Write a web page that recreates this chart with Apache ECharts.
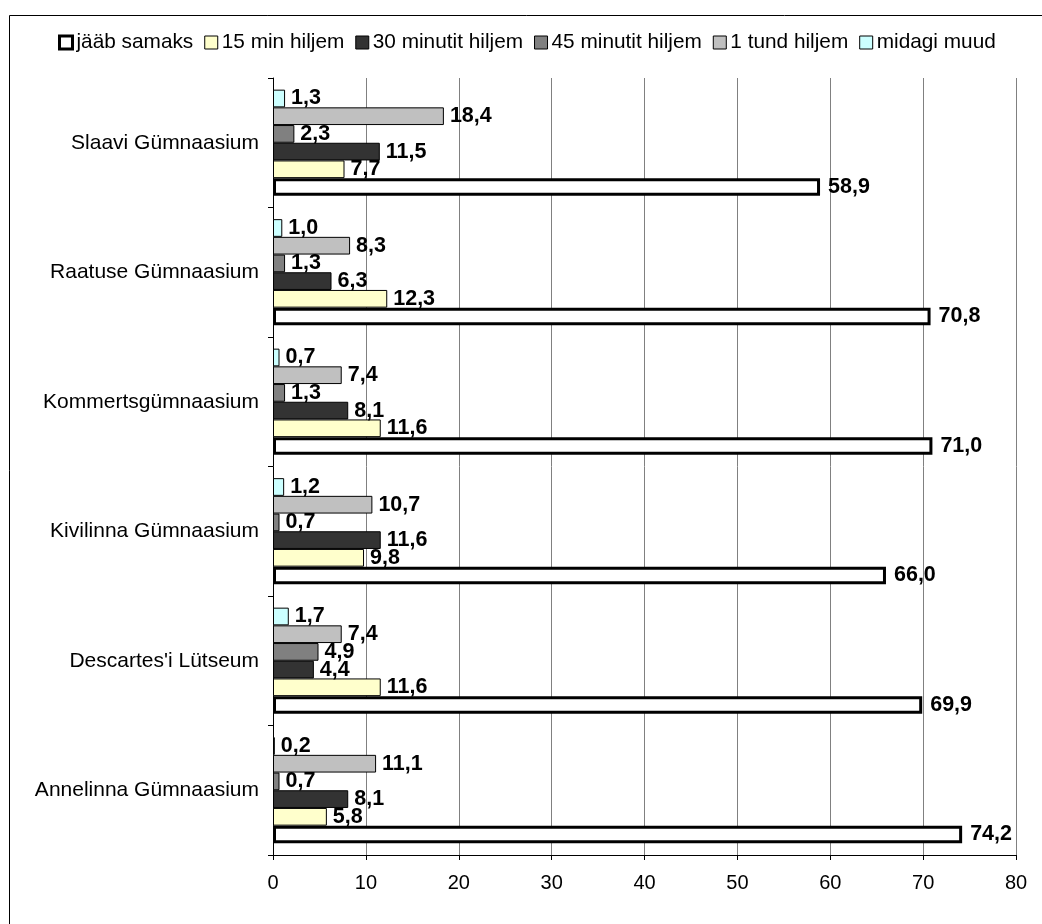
<!DOCTYPE html>
<html>
<head>
<meta charset="utf-8">
<script src="https://cdn.jsdelivr.net/npm/echarts@6/dist/echarts.min.js"></script>
<style>html,body{margin:0;padding:0;background:#fff;}#c{width:1042px;height:924px;}</style>
</head>
<body>
<div id="c"></div>
<script>
// Categories listed bottom-to-top
const categories = ["Annelinna Gümnaasium", "Descartes'i Lütseum", "Kivilinna Gümnaasium", "Kommertsgümnaasium", "Raatuse Gümnaasium", "Slaavi Gümnaasium"];
const seriesNames = ["jääb samaks", "15 min hiljem", "30 minutit hiljem", "45 minutit hiljem", "1 tund hiljem", "midagi muud"];
const jaabSamaks   = [74.2, 69.9, 66.0, 71.0, 70.8, 58.9];
const min15        = [5.8, 11.6, 9.8, 11.6, 12.3, 7.7];
const min30        = [8.1, 4.4, 11.6, 8.1, 6.3, 11.5];
const min45        = [0.7, 4.9, 0.7, 1.3, 1.3, 2.3];
const tund1        = [11.1, 7.4, 10.7, 7.4, 8.3, 18.4];
const midagiMuud   = [0.2, 1.7, 1.2, 0.7, 1.0, 1.3];
const xTicks = [0, 10, 20, 30, 40, 50, 60, 70, 80];

const seriesData = [jaabSamaks, min15, min30, min45, tund1, midagiMuud];
const colors = ["#FFFFFF", "#FFFFCC", "#333333", "#808080", "#C0C0C0", "#CCFFFF"];
const borderWidths = [3, 1, 1, 1, 1, 1];
const FONT = "'Liberation Sans', Arial, sans-serif";

// build series so that the first legend entry sits at the bottom of each group
const series = [];
for (let i = seriesData.length - 1; i >= 0; i--) {
  series.push({
    name: seriesNames[i], type: 'bar', data: seriesData[i],
    barGap: '0%', barCategoryGap: '18%',
    itemStyle: {color: colors[i], borderColor: '#000', borderWidth: borderWidths[i]},
    label: {
      show: true, position: 'right', distance: i === 0 ? 8 : 6,
      fontFamily: FONT, fontSize: 21.5, fontWeight: 'bold', color: '#000',
      formatter: p => p.value.toFixed(1).replace('.', ',')
    }
  });
}

const chart = echarts.init(document.getElementById('c'), null, {renderer: 'canvas'});
chart.setOption({
  animation: false,
  backgroundColor: '#ffffff',
  graphic: [{
    type: 'rect', left: 7, top: 13, z: -1,
    shape: {x: 0.5, y: 0.5, width: 1100, height: 1000},
    style: {fill: 'none', stroke: '#000', lineWidth: 1}
  }],
  legend: {
    top: 27, left: 53,
    itemWidth: 13, itemHeight: 13, itemGap: 11,
    icon: 'rect',
    textStyle: {fontFamily: FONT, fontSize: 20.8, color: '#000', padding: [0, 0, 0, -1]},
    data: seriesNames.map((n, i) => ({
      name: n,
      itemStyle: {color: colors[i], borderColor: '#000', borderWidth: borderWidths[i]}
    }))
  },
  grid: {left: 273, right: 26, top: 78, bottom: 69, containLabel: false},
  xAxis: {
    type: 'value', min: 0, max: 80, interval: 10,
    axisLine: {show: true, lineStyle: {color: '#000', width: 1}},
    axisTick: {show: true, length: 5, lineStyle: {color: '#000'}},
    axisLabel: {fontFamily: FONT, fontSize: 20, color: '#000', margin: 18,
      formatter: v => xTicks.includes(v) ? String(v) : ''},
    splitLine: {show: true, lineStyle: {color: '#808080', width: 1}}
  },
  yAxis: {
    type: 'category', data: categories,
    axisLine: {show: true, lineStyle: {color: '#000', width: 1}},
    axisTick: {show: true, length: 5, inside: false, lineStyle: {color: '#000'}},
    axisLabel: {fontFamily: FONT, fontSize: 21, color: '#000', margin: 14}
  },
  series: series
});
</script>
</body>
</html>
